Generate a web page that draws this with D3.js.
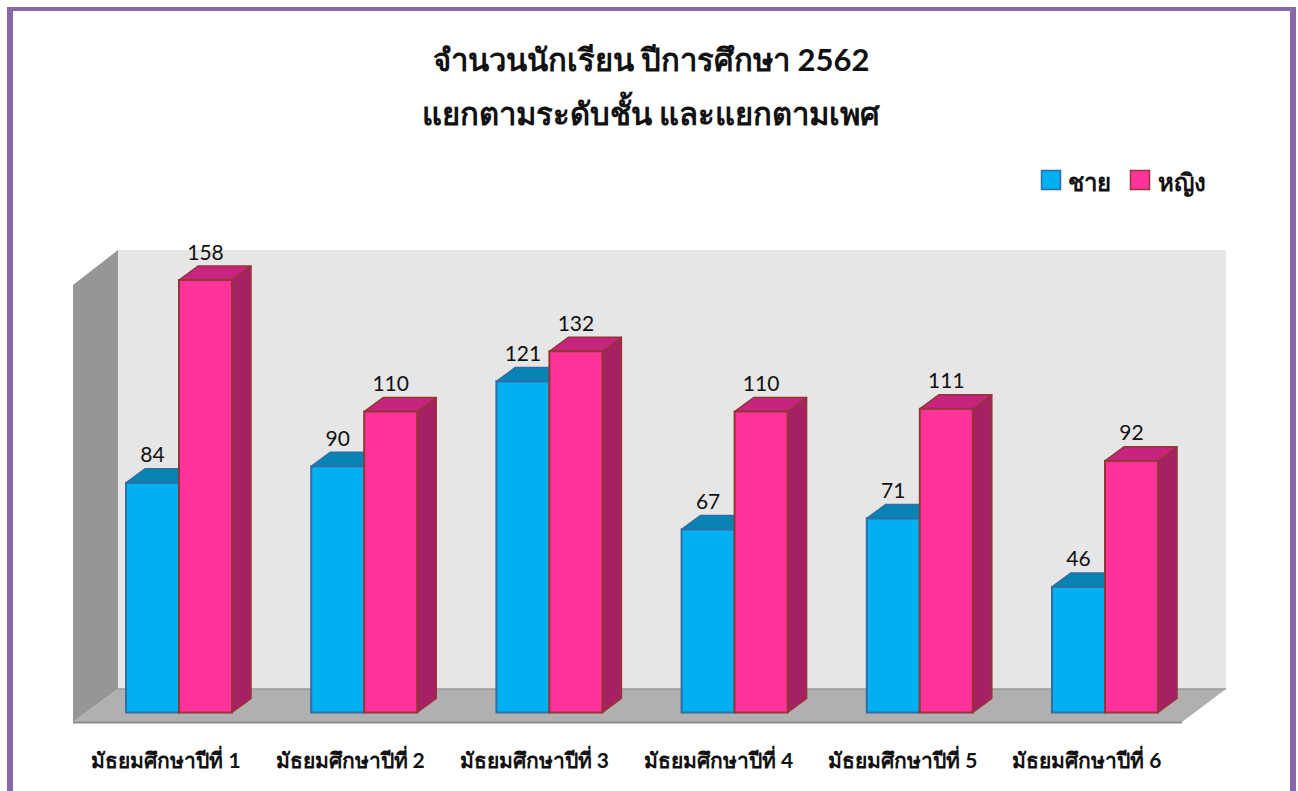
<!DOCTYPE html>
<html><head><meta charset="utf-8">
<script src="https://cdn.jsdelivr.net/npm/d3@7/dist/d3.min.js"></script>
<style>html,body{margin:0;padding:0;background:#fff;overflow:hidden}svg{display:block}</style>
</head><body><div id="c"></div>
<script>
const categories=["มัธยมศึกษาปีที่ 1","มัธยมศึกษาปีที่ 2","มัธยมศึกษาปีที่ 3","มัธยมศึกษาปีที่ 4","มัธยมศึกษาปีที่ 5","มัธยมศึกษาปีที่ 6"];
const seriesNames=["ชาย","หญิง"];
const boys=[84,90,121,67,71,46];
const girls=[158,110,132,110,111,92];
const titleLines=["จำนวนนักเรียน ปีการศึกษา 2562","แยกตามระดับชั้น และแยกตามเพศ"];
const colors=[{front:"#00B0F0",top:"#0784B4",side:"#0784B4",stroke:"#2F6EA5"},{front:"#FF3399",top:"#C72480",side:"#A62163",stroke:"#943634"}];

const W=1298,H=791,font="Lato,'Noto Sans',sans-serif";
const svg=d3.select("#c").append("svg").attr("width",W).attr("height",H);
svg.append("path").attr("fill-rule","evenodd").attr("fill","#8868A9")
 .attr("d","M7,7H1296V800H7ZM13,11V800H1290V11Z");

svg.selectAll("text.t").data(titleLines).join("text").attr("class","t")
 .attr("x",651).attr("y",(d,i)=>[71,125][i]).attr("text-anchor","middle")
 .attr("font-family",font).attr("font-weight",700).attr("font-size",31).attr("fill","#111").text(d=>d);

const baseY=712.5,depthX=19,depthY=14;
const y=d3.scaleLinear().domain([0,158]).range([713,280]);
const xBars=d3.scaleBand().domain(categories).range([86.4,1197.6]);
const xLabels=d3.scaleBand().domain(categories).range([73.9,1179]);
const inner=d3.scaleBand().domain([0,1]).range([0,106]);
const barShift=(xBars.bandwidth()-106)/2;

// walls
const backL=118,backR=1226,backT=250,backB=689,frontL=73,frontB=722,frontR=1182;
svg.append("rect").attr("x",backL).attr("y",backT).attr("width",backR-backL).attr("height",backB-backT).attr("fill","#E6E6E6");
svg.append("path").attr("d",`M${frontL},285L${backL},${backT}L${backL},${backB}L${frontL},${frontB}Z`).attr("fill","#969696");
svg.append("path").attr("d",`M${frontL},${frontB}L${backL},${backB}L${backR},${backB}L${frontR},${frontB}Z`).attr("fill","#B0B0B0");
svg.append("path").attr("d",`M${backL},${backB}L${backR},${backB}`).attr("stroke","#9a9a9a").attr("stroke-width",1.5);
svg.append("path").attr("d",`M${frontL},${frontB+0.5}L${frontR},${frontB+0.5}`).attr("stroke","#8c8c8c").attr("stroke-width",2);

const rows=categories.flatMap((c,i)=>[{c,s:0,v:boys[i]},{c,s:1,v:girls[i]}]);
const g=svg.selectAll("g.bar").data(rows).join("g").attr("class","bar");
const bx=d=>xBars(d.c)+barShift+inner(d.s), bw=inner.bandwidth();
g.append("path").attr("d",d=>{const a=bx(d),t=y(d.v);return `M${a+bw},${t}L${a+bw+depthX},${t-depthY}L${a+bw+depthX},${baseY-depthY}L${a+bw},${baseY}Z`})
 .attr("fill",d=>colors[d.s].side).attr("stroke",d=>colors[d.s].stroke).attr("stroke-width",1.5).attr("stroke-linejoin","round");
g.append("path").attr("d",d=>{const a=bx(d),t=y(d.v);return `M${a},${t}L${a+depthX},${t-depthY}L${a+bw+depthX},${t-depthY}L${a+bw},${t}Z`})
 .attr("fill",d=>colors[d.s].top).attr("stroke",d=>colors[d.s].stroke).attr("stroke-width",1.5).attr("stroke-linejoin","round");
g.append("rect").attr("x",bx).attr("y",d=>y(d.v)).attr("width",bw).attr("height",d=>baseY-y(d.v))
 .attr("fill",d=>colors[d.s].front).attr("stroke",d=>colors[d.s].stroke).attr("stroke-width",2);
g.append("text").attr("x",d=>bx(d)+bw/2).attr("y",d=>y(d.v)-20.5).attr("text-anchor","middle")
 .attr("font-family",font).attr("font-size",21).attr("fill","#111").text(d=>d.v);

svg.selectAll("text.cat").data(categories).join("text").attr("class","cat")
 .attr("x",d=>xLabels(d)+xLabels.bandwidth()/2).attr("y",768).attr("text-anchor","middle")
 .attr("font-family",font).attr("font-weight",700).attr("font-size",21).attr("fill","#111").text(d=>d);

const lx=[1041.5,1130.5],tx=[1068,1158];
seriesNames.forEach((n,i)=>{
 svg.append("rect").attr("x",lx[i]).attr("y",170.5).attr("width",19).attr("height",19).attr("fill",colors[i].front).attr("stroke",colors[i].stroke).attr("stroke-width",1.5);
 svg.append("text").attr("x",tx[i]).attr("y",191).attr("font-family",font).attr("font-weight",700).attr("font-size",24).attr("fill","#111").text(n);
});
</script></body></html>
